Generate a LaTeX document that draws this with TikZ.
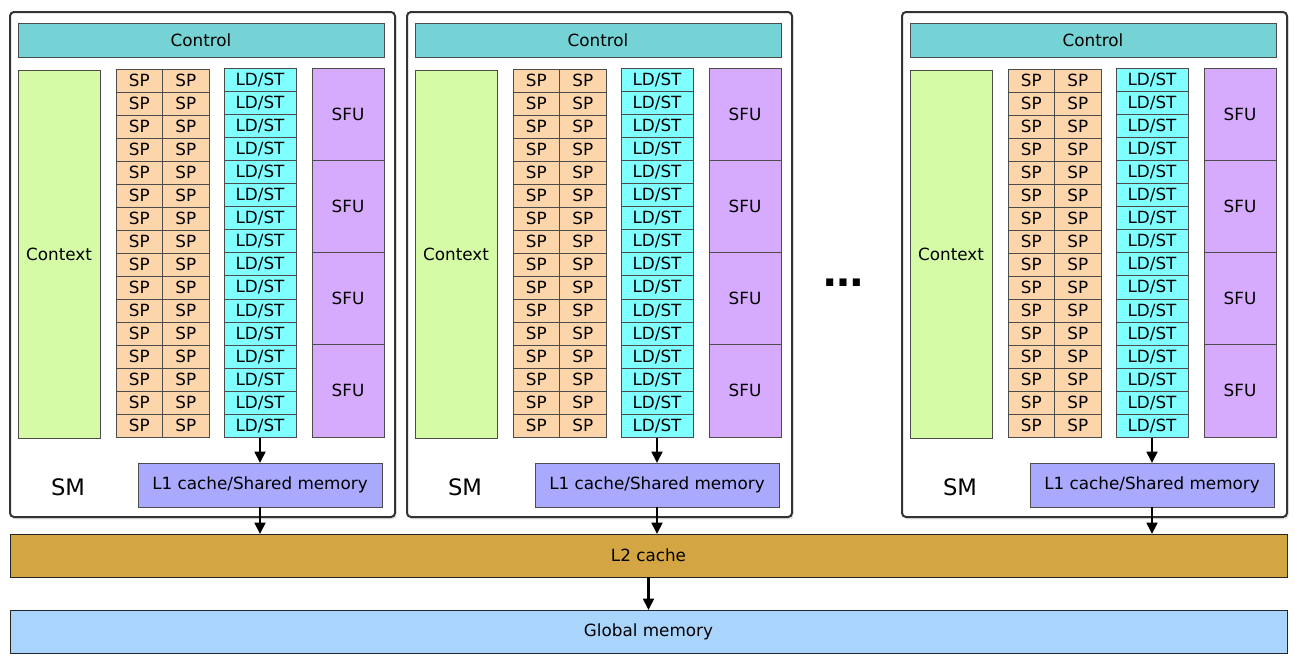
\documentclass[tikz,border=0pt]{standalone}
\usepackage{fontspec}
\setmainfont{DejaVu Sans}
\usetikzlibrary{arrows.meta,shadows}

\definecolor{ctrlcol}{HTML}{75D3D5}
\definecolor{ctxcol}{HTML}{D5FBA6}
\definecolor{spcol}{HTML}{FDD5AA}
\definecolor{ldstcol}{HTML}{7FFFFF}
\definecolor{sfucol}{HTML}{D6ABFD}
\definecolor{lonecol}{HTML}{A9A9FD}
\definecolor{ltwocol}{HTML}{D4A543}
\definecolor{globcol}{HTML}{A9D5FD}

\tikzset{
  unit/.style={draw=black!70, line width=0.7pt, inner sep=0pt, outer sep=0pt,
    anchor=north west, font=\fontsize{12.6}{13}\selectfont},
  smbox/.style={draw=black!80, line width=1.5pt, rounded corners=3pt, fill=white,
    inner sep=0pt, outer sep=0pt, anchor=north west,
    drop shadow={shadow xshift=1.2pt, shadow yshift=-1.8pt, opacity=0.22}},
  flow/.style={-{Triangle[length=8.5pt,width=8pt]}, line width=2pt},
}

\begin{document}
\begin{tikzpicture}[x=0.75pt,y=-0.75pt]
    \useasboundingbox (0,0) rectangle (1295,661);

    % shared levels
    \node[unit, draw=black!85, fill=ltwocol, minimum width=1277*0.75pt, minimum height=43*0.75pt] (l2) at (10,534) {L2 cache};
    \node[unit, draw=black!85, fill=globcol, minimum width=1277*0.75pt, minimum height=43*0.75pt] (glob) at (10,610) {Global memory};
    \draw[flow] (l2.south) -- (glob.north);

    % streaming multiprocessors
    \foreach \x [count=\i] in {10,407,902} {
        \node[smbox, minimum width=385*0.75pt, minimum height=505*0.75pt] (sm\i) at (\x,12) {};
        \node[unit, fill=ctrlcol, minimum width=366*0.75pt, minimum height=34*0.75pt] (ctrl\i) at (\x+8,23) {Control};
        \node[unit, fill=ctxcol, minimum width=82*0.75pt, minimum height=368*0.75pt] (ctx\i) at (\x+8,70) {Context};
        \foreach \r in {1,...,16} {
            \node[unit, fill=spcol, minimum width=46.5*0.75pt, minimum height=23*0.75pt] (spa\i-\r) at (\x+106,69+23*\r-23) {SP};
            \node[unit, fill=spcol, minimum width=46.5*0.75pt, minimum height=23*0.75pt] (spb\i-\r) at (\x+152.5,69+23*\r-23) {SP};
            \node[unit, fill=ldstcol, minimum width=72*0.75pt, minimum height=23.1*0.75pt] (ldst\i-\r) at (\x+214,68+23.1*\r-23.1) {LD/ST};
        }
        \foreach \r in {1,...,4} {
            \node[unit, fill=sfucol, minimum width=72*0.75pt, minimum height=92.25*0.75pt] (sfu\i-\r) at (\x+302,68+92.25*\r-92.25) {SFU};
        }
        \node[unit, fill=lonecol, minimum width=244*0.75pt, minimum height=44*0.75pt] (l1\i) at (\x+128,463) {L1 cache/Shared memory};
        \node[font=\fontsize{17}{18}\selectfont] (smlabel\i) at (\x+58,487) {SM};
        \draw[flow] (ldst\i-16.south) -- (l1\i.north);
        \draw[flow] (l1\i.south) -- (l1\i.south |- l2.north);
    }

    \node[font=\fontsize{30}{30}\selectfont\bfseries] (dots) at (843,283) {…};
\end{tikzpicture}
\end{document}
